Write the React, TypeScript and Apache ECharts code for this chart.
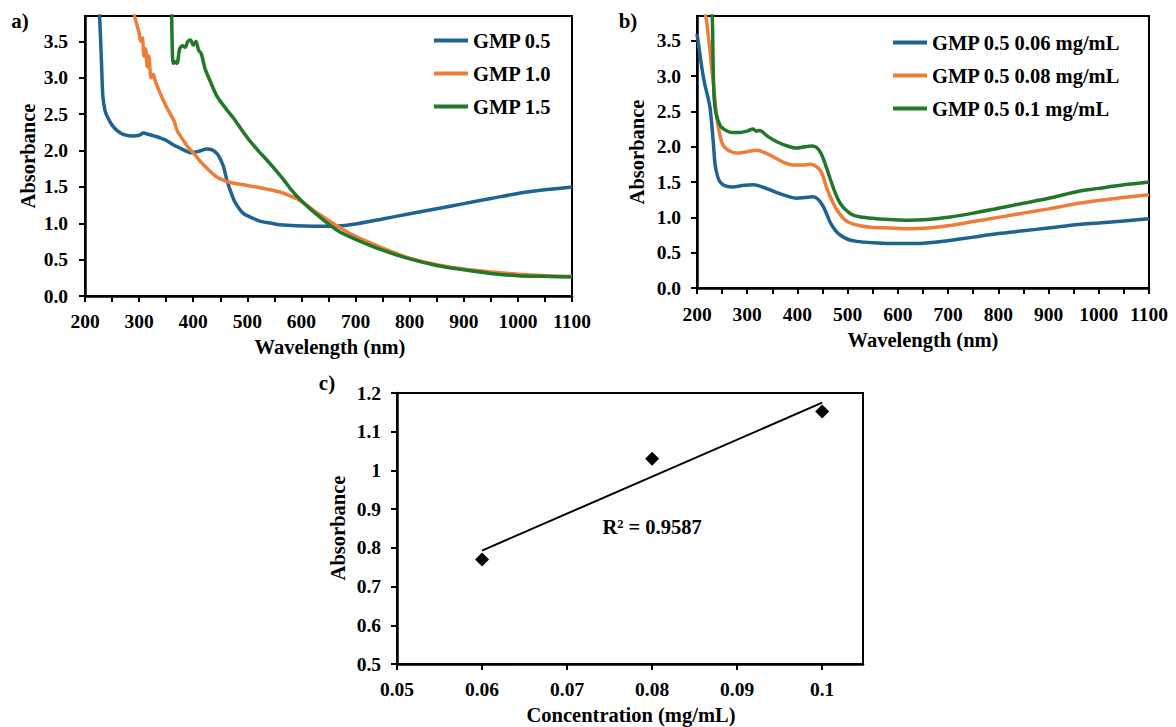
import React, { useEffect, useRef } from "react";
import * as echarts from "echarts";

// ---------- Panel a) ----------
const waveA05 = [226, 229, 231, 233, 237, 243, 250, 260, 272, 290, 300, 308, 318, 333, 350, 363, 385, 395, 410, 425, 435, 445, 455, 462, 470, 478, 492, 510, 523, 545, 560, 590, 622, 659, 680, 700, 750, 800, 850, 900, 950, 1000, 1050, 1100];
const absA05 = [4.0, 3.5, 3.1, 2.75, 2.55, 2.44, 2.35, 2.27, 2.22, 2.2, 2.21, 2.24, 2.22, 2.19, 2.14, 2.08, 2.0, 1.97, 1.99, 2.02, 2.01, 1.95, 1.8, 1.6, 1.42, 1.28, 1.14, 1.07, 1.03, 1.0, 0.98, 0.965, 0.96, 0.96, 0.97, 0.99, 1.06, 1.13, 1.2, 1.27, 1.34, 1.41, 1.46, 1.5];

const waveA10 = [290, 295, 300, 303, 306, 309, 312, 315, 318, 322, 326, 330, 337, 344, 352, 360, 365, 370, 380, 390, 400, 412, 425, 443, 460, 475, 500, 536, 560, 585, 600, 622, 650, 671, 700, 750, 800, 850, 900, 950, 1000, 1050, 1100];
const absA10 = [3.9, 3.75, 3.62, 3.5, 3.55, 3.3, 3.4, 3.15, 3.3, 3.0, 3.05, 2.95, 2.82, 2.7, 2.58, 2.47, 2.4, 2.28, 2.16, 2.05, 1.97, 1.86, 1.76, 1.64, 1.58, 1.55, 1.52, 1.47, 1.43, 1.36, 1.3, 1.18, 1.04, 0.94, 0.82, 0.66, 0.52, 0.43, 0.37, 0.33, 0.3, 0.28, 0.27];

const waveA15 = [360, 361, 363, 366, 370, 375, 380, 385, 390, 395, 400, 405, 410, 415, 422, 430, 443, 460, 474, 490, 505, 520, 536, 550, 567, 580, 600, 622, 640, 655, 671, 700, 750, 800, 850, 900, 950, 1000, 1050, 1100];
const absA15 = [4.0, 3.5, 3.2, 3.22, 3.2, 3.4, 3.44, 3.42, 3.5, 3.52, 3.45, 3.5, 3.38, 3.33, 3.12, 2.98, 2.76, 2.58, 2.45, 2.28, 2.13, 2.0, 1.87, 1.75, 1.6, 1.47, 1.31, 1.16, 1.05, 0.96, 0.88, 0.78, 0.63, 0.51, 0.42, 0.36, 0.31, 0.28, 0.27, 0.26];

// ---------- Panel b) ----------
const waveB06 = [200, 205, 210, 215, 220, 226, 232, 236, 241, 246, 255, 272, 290, 312, 330, 359, 380, 399, 415, 431, 442, 451, 458, 465, 475, 485, 500, 518, 550, 584, 620, 650, 700, 750, 800, 850, 900, 960, 1000, 1050, 1100];
const absB06 = [3.6, 3.35, 3.1, 2.9, 2.75, 2.55, 2.1, 1.75, 1.58, 1.5, 1.45, 1.43, 1.45, 1.46, 1.43, 1.35, 1.3, 1.27, 1.28, 1.29, 1.25, 1.16, 1.05, 0.93, 0.82, 0.75, 0.69, 0.66, 0.64, 0.63, 0.63, 0.635, 0.67, 0.72, 0.77, 0.81, 0.85, 0.9, 0.92, 0.95, 0.98];

const waveB08 = [200, 215, 222, 228, 234, 238, 242, 247, 252, 262, 279, 300, 319, 340, 359, 375, 391, 410, 425, 441, 450, 458, 468, 479, 492, 505, 525, 545, 584, 620, 660, 700, 750, 800, 850, 900, 960, 1000, 1050, 1100];
const absB08 = [3.95, 3.9, 3.6, 3.2, 2.8, 2.5, 2.3, 2.12, 2.02, 1.95, 1.91, 1.93, 1.95, 1.9, 1.83, 1.77, 1.74, 1.74, 1.75, 1.7, 1.6, 1.42, 1.25, 1.1, 0.98, 0.92, 0.88, 0.86, 0.85, 0.84, 0.85, 0.88, 0.94, 1.0, 1.06, 1.12, 1.2, 1.24, 1.28, 1.32];

const waveB10 = [226, 230, 232, 234, 237, 242, 248, 258, 270, 285, 300, 306, 312, 318, 325, 340, 359, 380, 399, 415, 429, 438, 445, 452, 458, 465, 475, 485, 497, 511, 530, 558, 584, 620, 660, 700, 750, 800, 850, 900, 960, 1000, 1050, 1100];
const absB10 = [4.0, 3.9, 3.2, 2.7, 2.5, 2.37, 2.28, 2.23, 2.2, 2.2, 2.22, 2.24, 2.25, 2.22, 2.23, 2.15, 2.07, 2.01, 1.98, 2.0, 2.01, 1.99, 1.93, 1.82, 1.7, 1.55, 1.35, 1.2, 1.1, 1.03, 1.0, 0.98, 0.97, 0.96, 0.97, 1.0, 1.06, 1.13, 1.2, 1.27, 1.37, 1.41, 1.46, 1.5];

// ---------- Panel c) ----------
const concC = [0.06, 0.08, 0.1];
const absC = [0.77, 1.03, 1.152];
const concTicks = [0.05, 0.06, 0.07, 0.08, 0.09, 0.1];
const r2Label = "R² = 0.9587";

const namesA = ["GMP 0.5", "GMP 1.0", "GMP 1.5"];
const namesB = ["GMP 0.5 0.06 mg/mL", "GMP 0.5 0.08 mg/mL", "GMP 0.5 0.1 mg/mL"];

const BLUE = "#1f6390";
const ORANGE = "#ef7d3a";
const GREEN = "#22772b";
const FONT = "Liberation Serif";

function zip(xs: number[], ys: number[]) {
  return xs.map((x, i) => [x, ys[i]]);
}

function linearFit(xs: number[], ys: number[]) {
  const n = xs.length;
  const mx = xs.reduce((a, b) => a + b, 0) / n;
  const my = ys.reduce((a, b) => a + b, 0) / n;
  let sxy = 0, sxx = 0;
  for (let i = 0; i < n; i++) {
    sxy += (xs[i] - mx) * (ys[i] - my);
    sxx += (xs[i] - mx) * (xs[i] - mx);
  }
  const slope = sxy / sxx;
  return { slope, intercept: my - slope * mx };
}

export default function App() {
  const ref = useRef<HTMLDivElement>(null);
  useEffect(() => {
    if (!ref.current) return;
    const chart = echarts.init(ref.current, undefined, { renderer: "svg" });
    const fit = linearFit(concC, absC);
    const xMinC = Math.min(...concC);
    const xMaxC = Math.max(...concC);
    const trend = [
      [xMinC, fit.intercept + fit.slope * xMinC],
      [xMaxC, fit.intercept + fit.slope * xMaxC],
    ];

    const label = { fontFamily: FONT, fontWeight: "bold", fontSize: 19.5, color: "#000" };
    const axisLine = { show: true, onZero: false, lineStyle: { color: "#000", width: 2.5 } };
    const tick = { show: true, inside: false, length: 6, lineStyle: { color: "#000", width: 2 } };

    const wavelengthX = (gridIndex: number, margin: number) => ({
      type: "value",
      gridIndex,
      min: 200,
      max: 1100,
      interval: 100,
      axisLine,
      axisTick: tick,
      minorTick: { show: true, splitNumber: 2, length: 6, lineStyle: { color: "#000", width: 2 } },
      splitLine: { show: false },
      axisLabel: { ...label, margin, formatter: (v: number) => String(Math.round(v)) },
    });
    const absY = (gridIndex: number, margin: number) => ({
      type: "value",
      gridIndex,
      min: 0,
      max: 3.85,
      interval: 0.5,
      axisLine,
      axisTick: tick,
      splitLine: { show: false },
      axisLabel: { ...label, margin, showMaxLabel: false, formatter: (v: number) => v.toFixed(1) },
    });

    const lineSeries = (name: string, color: string, idx: number, xs: number[], ys: number[]) => ({
      type: "line",
      name,
      xAxisIndex: idx,
      yAxisIndex: idx,
      data: zip(xs, ys),
      showSymbol: false,
      symbol: "none",
      smooth: 0.3,
      clip: true,
      lineStyle: { color, width: 3.5 },
      itemStyle: { color },
    });

    const legendText = { fontFamily: FONT, fontWeight: "bold", fontSize: 20.5, color: "#000", lineHeight: 21 };

    const textG = (text: string, x: number, y: number, size: number, rotate = 0) => ({
      type: "text",
      x,
      y,
      rotation: rotate,
      style: {
        text,
        fill: "#000",
        fontFamily: FONT,
        fontWeight: "bold",
        fontSize: size,
        align: "center",
        verticalAlign: "middle",
      },
    });

    chart.setOption({
      animation: false,
      backgroundColor: "#fff",
      textStyle: { fontFamily: FONT },
      grid: [
        { left: 85, top: 16, width: 487, height: 280, show: true, borderColor: "#000", borderWidth: 2, backgroundColor: "transparent" },
        { left: 697, top: 16, width: 452, height: 272, show: true, borderColor: "#000", borderWidth: 2, backgroundColor: "transparent" },
        { left: 397, top: 393, width: 466, height: 271, show: true, borderColor: "#000", borderWidth: 2, backgroundColor: "transparent" },
      ],
      xAxis: [
        wavelengthX(0, 15),
        wavelengthX(1, 16),
        {
          type: "value",
          gridIndex: 2,
          min: 0.05,
          max: 0.1048,
          interval: 0.01,
          axisLine,
          axisTick: { ...tick, customValues: concTicks },
          splitLine: { show: false },
          axisLabel: {
            ...label,
            margin: 15,
            customValues: concTicks,
            formatter: (v: number) => String(+v.toFixed(2)),
          },
        },
      ],
      yAxis: [
        absY(0, 17),
        absY(1, 16),
        {
          type: "value",
          gridIndex: 2,
          min: 0.5,
          max: 1.2,
          interval: 0.1,
          axisLine,
          axisTick: tick,
          splitLine: { show: false },
          axisLabel: { ...label, margin: 16, formatter: (v: number) => String(+v.toFixed(1)) },
        },
      ],
      legend: [
        {
          data: namesA,
          left: 434,
          top: 30,
          padding: 0,
          orient: "vertical",
          icon: "rect",
          itemWidth: 34,
          itemHeight: 4,
          itemGap: 12,
          textStyle: legendText,
        },
        {
          data: namesB,
          left: 893,
          top: 32,
          padding: 0,
          orient: "vertical",
          icon: "rect",
          itemWidth: 34,
          itemHeight: 4,
          itemGap: 12,
          textStyle: legendText,
        },
      ],
      series: [
        lineSeries(namesA[0], BLUE, 0, waveA05, absA05),
        lineSeries(namesA[1], ORANGE, 0, waveA10, absA10),
        lineSeries(namesA[2], GREEN, 0, waveA15, absA15),
        lineSeries(namesB[0], BLUE, 1, waveB06, absB06),
        lineSeries(namesB[1], ORANGE, 1, waveB08, absB08),
        lineSeries(namesB[2], GREEN, 1, waveB10, absB10),
        {
          type: "line",
          name: "trend",
          xAxisIndex: 2,
          yAxisIndex: 2,
          data: trend,
          symbol: "none",
          lineStyle: { color: "#000", width: 2 },
        },
        {
          type: "scatter",
          name: "points",
          xAxisIndex: 2,
          yAxisIndex: 2,
          data: zip(concC, absC),
          symbol: "diamond",
          symbolSize: 14,
          itemStyle: { color: "#000", opacity: 1 },
        },
      ],
      graphic: [
        textG("a)", 20, 21, 21),
        textG("b)", 628, 21, 21),
        textG("c)", 327, 383, 21),
        textG("Absorbance", 28, 156, 20.5, Math.PI / 2),
        textG("Absorbance", 637, 152, 20.5, Math.PI / 2),
        textG("Absorbance", 338, 528, 20.5, Math.PI / 2),
        textG("Wavelength (nm)", 330, 347, 20.5),
        textG("Wavelength (nm)", 923, 340, 20.5),
        textG("Concentration (mg/mL)", 631, 715, 20.5),
        textG(r2Label, 652, 527, 20.5),
      ],
    });
    return () => chart.dispose();
  }, []);
  return (
    <div
      ref={ref}
      style={{ position: "fixed", left: 0, top: 0, width: 1176, height: 727, background: "#fff" }}
    />
  );
}
